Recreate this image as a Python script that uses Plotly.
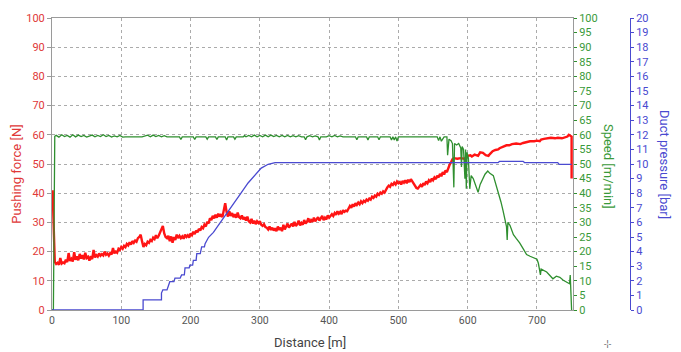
import plotly.graph_objects as go

# ---------------- data ----------------
force_x = [0, 1, 2, 3, 4, 6, 8, 10, 12, 14, 16, 18, 20, 22, 24, 26, 28, 30, 32, 34,
           36, 38, 40, 42, 44, 46, 48, 50, 52, 54, 56, 58, 60, 62, 64, 66, 68, 70, 72, 74,
           76, 78, 80, 82, 84, 86, 88, 90, 92, 94, 96, 98, 100, 102, 104, 106, 108, 110, 112, 114,
           116, 118, 120, 122, 124, 126, 128, 130, 132, 134, 136, 138, 140, 142, 144, 146, 148, 150, 152, 154,
           156, 158, 160, 162, 164, 166, 168, 170, 172, 174, 176, 178, 180, 182, 184, 186, 188, 190, 192, 194,
           196, 198, 200, 202, 204, 206, 208, 210, 212, 214, 216, 218, 220, 222, 224, 226, 228, 230, 232, 234,
           236, 238, 240, 242, 244, 246, 248, 250, 252, 254, 256, 258, 260, 262, 264, 266, 268, 270, 272, 274,
           276, 278, 280, 282, 284, 286, 288, 290, 292, 294, 296, 298, 300, 302, 304, 306, 308, 310, 312, 314,
           316, 318, 320, 322, 324, 326, 328, 330, 332, 334, 336, 338, 340, 342, 344, 346, 348, 350, 352, 354,
           356, 358, 360, 362, 364, 366, 368, 370, 372, 374, 376, 378, 380, 382, 384, 386, 388, 390, 392, 394,
           396, 398, 400, 402, 404, 406, 408, 410, 412, 414, 416, 418, 420, 422, 424, 426, 428, 430, 432, 434,
           436, 438, 440, 442, 444, 446, 448, 450, 452, 454, 456, 458, 460, 462, 464, 466, 468, 470, 472, 474,
           476, 478, 480, 482, 484, 486, 488, 490, 492, 494, 496, 498, 500, 502, 504, 506, 508, 510, 512, 514,
           516, 518, 520, 522, 524, 526, 528, 530, 532, 534, 536, 538, 540, 542, 544, 546, 548, 550, 552, 554,
           556, 558, 560, 562, 564, 566, 568, 570, 572, 574, 576, 578, 580, 585, 590, 595, 598, 600, 604, 606,
           610, 615, 618, 622, 626, 630, 632, 636, 640, 644, 646, 650, 654, 656, 660, 664, 670, 676, 680, 686,
           690, 696, 700, 704, 706, 710, 716, 720, 726, 730, 736, 740, 744, 746, 748, 750, 750]
force_n = [38, 41, 32, 25, 16.5, 15.8, 16.2, 15.5, 17.8, 15.9, 16.3, 16.0, 17.2, 16.4, 19.5, 16.8, 17.5, 16.6, 19.8, 17.2,
           18.4, 17.0, 19.2, 17.6, 18.8, 17.3, 19.6, 17.8, 18.2, 16.9, 18.5, 17.4, 20.6, 18.0, 18.8, 18.3, 19.4, 18.6, 19.1, 18.7,
           20.0, 18.9, 19.3, 18.6, 19.5, 19.0, 21.2, 19.4, 20.0, 19.6, 21.0, 20.6, 21.6, 21.0, 22.0, 21.5, 22.6, 22.1, 23.2, 22.4,
           23.6, 23.0, 23.8, 23.4, 24.6, 25.0, 25.8, 23.5, 21.6, 22.6, 22.2, 23.4, 23.0, 24.0, 23.6, 24.8, 24.3, 25.6, 24.6, 25.4,
           26.4, 27.6, 28.8, 26.2, 25.0, 24.6, 25.4, 23.6, 25.2, 23.0, 25.0, 24.0, 25.8, 24.6, 25.4, 24.6, 25.2, 24.4, 25.8, 25.0,
           25.6, 24.8, 26.2, 25.6, 26.8, 26.0, 27.2, 26.6, 27.8, 27.2, 28.4, 28.0, 29.2, 28.6, 30.2, 29.6, 31.4, 30.8, 32.2, 31.4,
           32.6, 31.6, 33.0, 32.0, 32.8, 31.8, 34.2, 36.6, 33.6, 32.0, 33.8, 32.2, 33.2, 31.8, 32.8, 31.6, 33.4, 31.8, 31.4, 32.4,
           31.0, 31.8, 30.6, 32.0, 30.4, 30.0, 31.2, 29.6, 30.6, 29.4, 30.4, 29.8, 30.4, 29.2, 28.8, 29.4, 28.4, 28.2, 27.6, 28.6,
           27.4, 28.2, 27.2, 28.0, 27.0, 28.6, 27.4, 28.2, 27.0, 29.2, 27.6, 28.4, 29.6, 28.2, 29.0, 29.6, 28.6, 30.2, 28.8, 29.4,
           30.6, 29.0, 29.8, 29.2, 30.8, 29.6, 30.2, 31.4, 30.0, 30.8, 30.2, 31.6, 30.4, 31.0, 31.8, 30.6, 31.2, 32.2, 30.8, 31.6,
           31.0, 32.4, 31.6, 32.2, 32.8, 32.2, 33.2, 32.6, 33.8, 33.0, 33.6, 32.8, 34.2, 33.6, 34.0, 33.8, 34.8, 35.6, 35.0, 36.2,
           35.4, 36.6, 36.0, 36.8, 36.2, 37.2, 36.6, 37.4, 37.0, 37.8, 37.4, 38.2, 37.8, 38.8, 38.4, 39.2, 38.8, 39.8, 39.4, 40.2,
           39.8, 40.6, 40.2, 41.4, 42.0, 42.6, 42.2, 43.2, 42.8, 43.6, 43.0, 44.0, 43.4, 43.8, 43.0, 44.2, 43.6, 44.4, 43.4, 44.6,
           43.8, 44.8, 44.0, 43.4, 42.4, 41.8, 41.6, 42.4, 42.8, 42.2, 43.4, 42.8, 44.0, 43.4, 44.4, 43.8, 45.0, 44.4, 45.4, 44.8,
           46.0, 45.4, 46.6, 45.8, 47.2, 46.4, 47.8, 47.2, 48.8, 49.8, 50.6, 51.6, 52.0, 51.8, 52.0, 51.8, 52.2, 52.8, 53.0, 52.6,
           53.2, 52.8, 54.0, 53.8, 53.0, 52.8, 53.4, 54.4, 54.8, 55.0, 55.4, 55.8, 56.0, 56.4, 56.4, 56.8, 57.0, 56.8, 57.2, 57.6,
           57.8, 57.8, 58.0, 57.8, 58.4, 58.6, 58.8, 59.0, 58.8, 59.0, 58.8, 59.0, 59.4, 60.0, 59.6, 59.4, 45.0]

speed_x = [0, 2, 4, 6, 10, 14, 18, 22, 26, 30, 34, 38, 42, 46, 50, 54, 58, 62, 66, 70,
           74, 78, 82, 86, 90, 94, 98, 102, 106, 130, 134, 138, 142, 146, 150, 154, 158, 162, 166, 184,
           186, 188, 204, 206, 208, 222, 224, 226, 236, 238, 240, 250, 252, 254, 262, 264, 266, 276, 278, 280,
           284, 288, 292, 296, 300, 304, 308, 312, 316, 320, 324, 328, 332, 336, 340, 344, 348, 352, 356, 360,
           364, 366, 368, 372, 376, 380, 384, 386, 388, 396, 400, 404, 408, 412, 416, 420, 438, 440, 442, 454,
           456, 458, 470, 472, 474, 488, 490, 492, 494, 496, 498, 500, 540, 556, 558, 560, 562, 566, 570, 571,
           573, 576, 578, 580, 581, 584, 587, 590, 591, 592, 594, 596, 597, 598, 599, 601, 603, 605, 608, 611,
           615, 618, 622, 625, 629, 632, 637, 641, 644, 648, 651, 654, 656, 657, 658, 661, 664, 666, 670, 675,
           680, 685, 690, 695, 700, 702, 704, 705, 706, 710, 714, 718, 723, 728, 733, 738, 743, 747, 748, 749,
           750]
speed_v = [0, 0, 59.5, 59.8, 59.2, 60.0, 59.4, 59.8, 59.2, 60.0, 59.3, 59.9, 59.4, 59.8, 59.2, 59.6, 59.9, 59.3, 59.8, 59.4,
           60.0, 59.4, 59.8, 59.2, 59.6, 59.3, 59.8, 59.2, 59.3, 59.3, 59.5, 59.9, 59.3, 59.9, 59.4, 59.8, 59.3, 59.7, 59.3, 59.3,
           58.4, 59.3, 59.3, 58.4, 59.3, 59.3, 58.5, 59.3, 59.3, 58.4, 59.3, 59.3, 58.2, 59.3, 59.3, 58.5, 59.3, 59.3, 59.7, 59.3,
           59.8, 59.3, 59.9, 59.3, 59.8, 59.3, 59.9, 59.3, 59.9, 59.4, 59.8, 59.3, 59.8, 59.3, 59.8, 59.3, 59.7, 59.3, 59.7, 59.3,
           59.3, 58.3, 59.3, 59.7, 59.3, 59.6, 59.3, 58.2, 59.3, 59.3, 59.7, 59.3, 59.8, 59.3, 59.6, 59.3, 59.3, 58.3, 59.3, 59.3,
           58.2, 59.3, 59.3, 58.3, 59.3, 59.3, 58.2, 59.3, 58.2, 59.3, 57.9, 59.3, 59.3, 59.3, 58.0, 59.3, 57.8, 59.3, 59.3, 53.0,
           58.5, 58.0, 57.0, 42.0, 57.0, 56.5, 57.0, 55.5, 49.0, 56.0, 55.0, 45.0, 55.0, 41.5, 54.0, 52.0, 41.5, 46.0, 45.0, 43.0,
           40.3, 43.0, 44.8, 46.5, 47.6, 46.8, 46.0, 43.0, 40.0, 37.0, 34.0, 31.0, 28.6, 24.0, 30.0, 29.0, 27.0, 25.8, 24.5, 23.0,
           21.0, 19.0, 18.4, 18.0, 17.4, 16.0, 14.0, 12.0, 14.0, 13.4, 13.0, 12.0, 10.7, 11.6, 11.2, 10.2, 9.5, 9.0, 12.0, 8.0,
           0.0]

pressure_x = [0, 131.5, 131.5, 158, 158, 160, 166, 168, 170, 176, 177.5, 185, 187, 191, 192, 198, 199, 203, 204, 208,
              209, 214, 216, 220, 221, 226, 233, 238, 245, 254, 264, 273, 283, 293, 302, 312, 322, 644, 646, 680,
              682, 730, 732, 750]
pressure_bar = [0, 0, 0.7, 0.7, 1.16, 1.38, 1.38, 1.66, 1.94, 1.94, 2.18, 2.18, 2.4, 2.4, 2.88, 2.88, 3.08, 3.08, 3.4, 3.4,
                3.86, 3.86, 4.32, 4.32, 4.54, 4.98, 5.32, 5.66, 6.12, 6.78, 7.36, 8.02, 8.7, 9.26, 9.72, 9.98, 10.1, 10.1, 10.18, 10.18,
                10.1, 10.1, 9.98, 9.98]

# ---------------- figure ----------------
RED = "#ff1414"
GREEN = "#2f8f2f"
BLUE = "#4a4ad0"
GRID = "#ababab"
AXIS = "#9a9a9a"
FONT = "Roboto, Liberation Sans, Arial, sans-serif"

fig = go.Figure()
fig.add_trace(go.Scatter(x=pressure_x, y=pressure_bar, mode="lines", yaxis="y3",
                         line=dict(color=BLUE, width=1.3), hoverinfo="skip"))
fig.add_trace(go.Scatter(x=force_x, y=force_n, mode="lines", yaxis="y",
                         line=dict(color=RED, width=2.4), hoverinfo="skip"))
fig.add_trace(go.Scatter(x=speed_x, y=speed_v, mode="lines", yaxis="y2",
                         line=dict(color=GREEN, width=1.3), hoverinfo="skip"))

W_PLOT = 681 - 52 - 20
x_end = (573 - 52) / W_PLOT
p3 = (630 - 52) / W_PLOT

def px2paper_x(px):
    return (px - 52) / W_PLOT

def py2paper_y(py):
    return (310 - py) / 298.0

fig.update_layout(
    width=681, height=352,
    margin=dict(l=52, r=20, t=12, b=42),
    paper_bgcolor="white", plot_bgcolor="white",
    showlegend=False,
    font=dict(family=FONT, size=11),
    xaxis=dict(domain=[0, x_end], range=[0, 752], tick0=0, dtick=100,
               showgrid=True, gridcolor=GRID, griddash="3px,3px", gridwidth=1,
               showline=True, linecolor=AXIS, linewidth=1, mirror=True,
               ticks="", zeroline=False,
               tickfont=dict(color="#555555", size=10.5, family=FONT)),
    yaxis=dict(range=[0, 100], tick0=0, dtick=10,
               showgrid=True, gridcolor=GRID, griddash="3px,3px", gridwidth=1,
               showline=True, linecolor=AXIS, linewidth=1,
               ticks="outside", ticklen=4, tickcolor=AXIS, zeroline=False,
               tickfont=dict(color="#e03838", size=11, family=FONT)),
    yaxis2=dict(overlaying="y", side="right", anchor="x", range=[0, 100], tick0=0, dtick=5,
                showgrid=False, showline=True, linecolor=AXIS, linewidth=1,
                ticks="outside", ticklen=3, tickcolor=GREEN, zeroline=False,
                tickfont=dict(color="#3a9a3a", size=11, family=FONT)),
    yaxis3=dict(overlaying="y", side="right", anchor="free", position=p3,
                range=[0, 20], tick0=0, dtick=1,
                showgrid=False, showline=True, linecolor=BLUE, linewidth=1,
                ticks="outside", ticklen=3, tickcolor=BLUE, zeroline=False,
                tickfont=dict(color=BLUE, size=11, family=FONT)),
    annotations=[
        dict(text="Pushing force [N]", xref="paper", yref="paper",
             x=px2paper_x(17), y=py2paper_y(172), textangle=-90, showarrow=False,
             xanchor="center", yanchor="middle", font=dict(color="#e03838", size=13, family=FONT)),
        dict(text="Speed [m/min]", xref="paper", yref="paper",
             x=px2paper_x(608), y=py2paper_y(163), textangle=90, showarrow=False,
             xanchor="center", yanchor="middle", font=dict(color="#3a9a3a", size=13, family=FONT)),
        dict(text="Duct pressure [bar]", xref="paper", yref="paper",
             x=px2paper_x(665), y=py2paper_y(161), textangle=90, showarrow=False,
             xanchor="center", yanchor="middle", font=dict(color=BLUE, size=13, family=FONT)),
        dict(text="Distance [m]", xref="paper", yref="paper",
             x=px2paper_x(310), y=py2paper_y(343), showarrow=False,
             xanchor="center", yanchor="middle", font=dict(color="#444444", size=13, family=FONT)),
        dict(text="-¦-", xref="paper", yref="paper",
             x=px2paper_x(608), y=py2paper_y(345), showarrow=False,
             xanchor="center", yanchor="middle", font=dict(color="#666666", size=9, family=FONT)),
    ],
)

fig.write_html("out.html")
